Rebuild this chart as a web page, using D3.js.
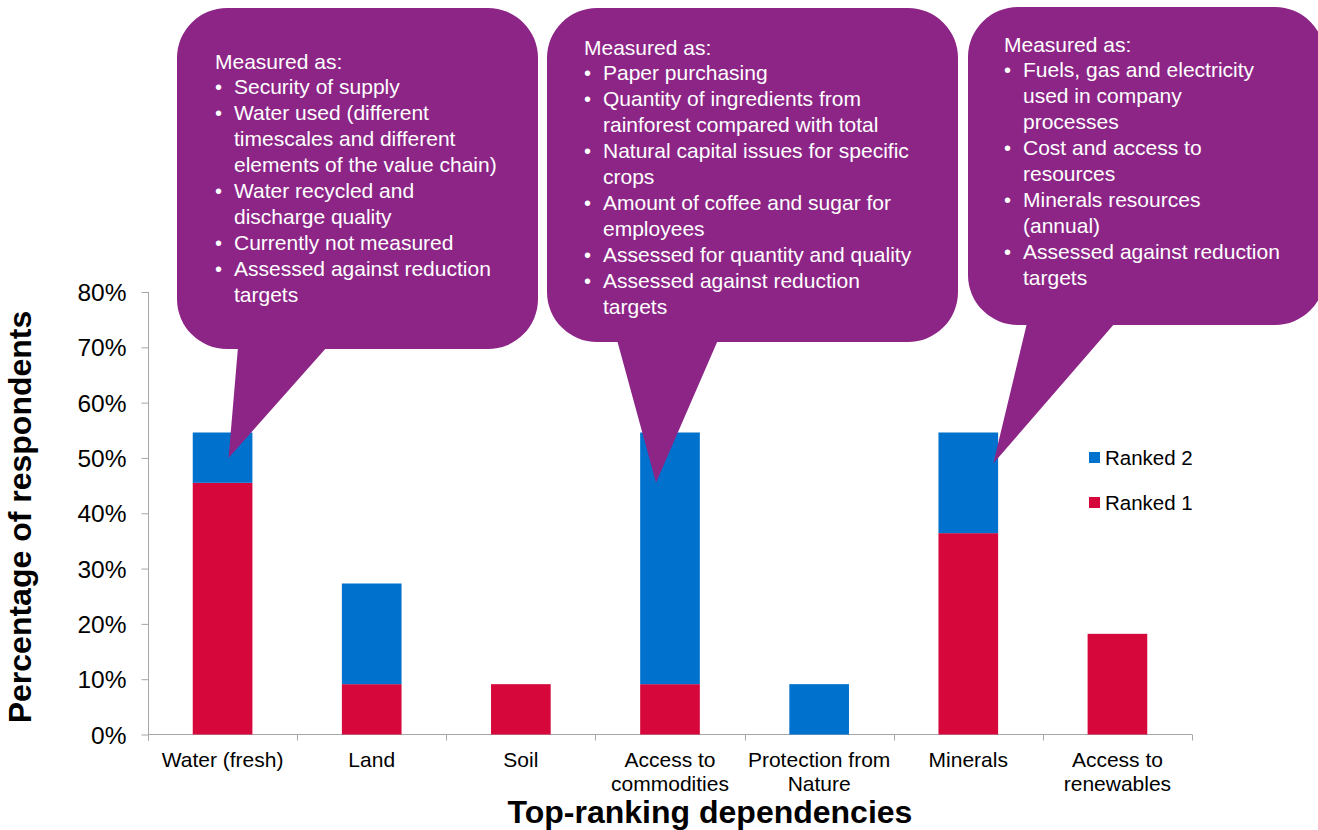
<!DOCTYPE html>
<html>
<head>
<meta charset="utf-8">
<script src="https://cdn.jsdelivr.net/npm/d3@7"></script>
<style>
  html, body { margin: 0; padding: 0; background: #fff; }
  svg { display: block; font-family: "Liberation Sans", Arial, sans-serif; }
  .axis path, .axis line { stroke: #a6a6a6; }
  .axis text { fill: #000; }
</style>
</head>
<body>
<svg id="chart" width="1318" height="830"></svg>
<script>
// --- data ---
const categories = ["Water (fresh)", "Land", "Soil", "Access to commodities",
  "Protection from Nature", "Minerals", "Access to renewables"];
const categoryLines = [["Water (fresh)"], ["Land"], ["Soil"], ["Access to", "commodities"],
  ["Protection from", "Nature"], ["Minerals"], ["Access to", "renewables"]];
const ranked1 = [45.5, 9.1, 9.1, 9.1, 0, 36.4, 18.2];
const ranked2 = [9.1, 18.2, 0, 45.5, 9.1, 18.2, 0];
const yTicks = [0, 10, 20, 30, 40, 50, 60, 70, 80];
const seriesNames = ["Ranked 2", "Ranked 1"];

// callout texts: each bullet is a list of wrapped lines
const calloutWater = [["Security of supply"], ["Water used (different", "timescales and different", "elements of the value chain)"],
  ["Water recycled and", "discharge quality"], ["Currently not measured"], ["Assessed against reduction", "targets"]];
const calloutCommodities = [["Paper purchasing"], ["Quantity of ingredients from", "rainforest compared with total"],
  ["Natural capital issues for specific", "crops"], ["Amount of coffee and sugar for", "employees"],
  ["Assessed for quantity and quality"], ["Assessed against reduction", "targets"]];
const calloutMinerals = [["Fuels, gas and electricity", "used in company", "processes"], ["Cost and access to", "resources"],
  ["Minerals resources", "(annual)"], ["Assessed against reduction", "targets"]];
const calloutPointsAt = [50, 45.5, 49]; // value level the pointer tip reaches

const RED = "#d6083b", BLUE = "#0072ce", PURPLE = "#8d2587";

const svg = d3.select("#chart");
const x = d3.scaleBand().domain(categories).range([148, 1192]).paddingInner(0.6).paddingOuter(0.3);
const y = d3.scaleLinear().domain([0, 80]).range([734.5, 292]);

// --- axes ---
const yAxis = svg.append("g").attr("class", "axis").attr("transform", "translate(148.5,0)")
  .call(d3.axisLeft(y).tickValues(yTicks).tickFormat(d => d + "%").tickSize(7).tickPadding(15));
yAxis.select(".domain").attr("d", `M0,${y(80)}V${y(0) + 6}`);
yAxis.selectAll("text").attr("font-size", 24.5).attr("dy", "0.35em");

const xg = svg.append("g").attr("class", "axis");
xg.append("line").attr("x1", 148).attr("x2", x.range()[1]).attr("y1", y(0)).attr("y2", y(0));
d3.range(categories.length + 1).forEach(i => {
  const tx = Math.round(x.range()[0] + i * x.step()) + 0.5;
  xg.append("line").attr("x1", tx).attr("x2", tx).attr("y1", y(0)).attr("y2", y(0) + 6);
});

// --- bars ---
const bars = svg.append("g");
categories.forEach((c, i) => {
  bars.append("rect").attr("x", x(c)).attr("width", x.bandwidth())
    .attr("y", y(ranked1[i])).attr("height", y(0) - y(ranked1[i])).attr("fill", RED);
  bars.append("rect").attr("x", x(c)).attr("width", x.bandwidth())
    .attr("y", y(ranked1[i] + ranked2[i])).attr("height", y(0) - y(ranked2[i])).attr("fill", BLUE);
});

// category labels
categories.forEach((c, i) => {
  const t = svg.append("text").attr("text-anchor", "middle").attr("font-size", 21).attr("fill", "#000");
  categoryLines[i].forEach((ln, j) => {
    t.append("tspan").attr("x", x(c) + x.bandwidth() / 2).attr("y", 767 + j * 24).text(ln);
  });
});

// axis titles
svg.append("text").attr("x", 710).attr("y", 823).attr("text-anchor", "middle")
  .attr("font-size", 32).attr("font-weight", "bold").text("Top-ranking dependencies");
svg.append("text").attr("transform", "translate(31,517) rotate(-90)").attr("text-anchor", "middle")
  .attr("font-size", 32).attr("font-weight", "bold").text("Percentage of respondents");

// legend
[BLUE, RED].forEach((col, i) => {
  const ly = 452 + i * 45;
  svg.append("rect").attr("x", 1089).attr("y", ly).attr("width", 11).attr("height", 11).attr("fill", col);
  svg.append("text").attr("x", 1105).attr("y", ly + 13).attr("font-size", 20.5).text(seriesNames[i]);
});

// --- callouts ---
const callouts = [
  { box: [177, 8, 538, 349], base: [238, 327], cat: 0, dx: 6, items: calloutWater, tx: 215, ty: 69 },
  { box: [547, 8, 958, 342], base: [617, 718], cat: 3, dx: -14, items: calloutCommodities, tx: 584, ty: 55 },
  { box: [968, 7, 1325, 325], base: [1027, 1115], cat: 5, dx: 25, items: calloutMinerals, tx: 1004, ty: 52 }
];
callouts.forEach((co, k) => {
  const [x0, y0, x1, y1] = co.box, r = 50;
  const p = d3.path();
  p.moveTo(x0 + r, y0);
  p.arcTo(x1, y0, x1, y1, r);
  p.arcTo(x1, y1, x0, y1, r);
  p.arcTo(x0, y1, x0, y0, r);
  p.arcTo(x0, y0, x1, y0, r);
  p.closePath();
  const tipX = x(categories[co.cat]) + x.bandwidth() / 2 + co.dx;
  const tipY = y(calloutPointsAt[k]);
  p.moveTo(co.base[0], y1 - 2);
  p.lineTo(co.base[1], y1 - 2);
  p.lineTo(tipX, tipY);
  p.closePath();
  svg.append("path").attr("d", p.toString()).attr("fill", PURPLE);

  const g = svg.append("g").attr("fill", "#fff").attr("font-size", 21);
  g.append("text").attr("x", co.tx).attr("y", co.ty).text("Measured as:");
  let ly = co.ty + 24.5;
  co.items.forEach(item => {
    g.append("text").attr("x", co.tx).attr("y", ly).attr("font-size", 20).text("\u2022");
    item.forEach(ln => {
      g.append("text").attr("x", co.tx + 19).attr("y", ly).text(ln);
      ly += 26.1;
    });
  });
});
</script>
</body>
</html>
